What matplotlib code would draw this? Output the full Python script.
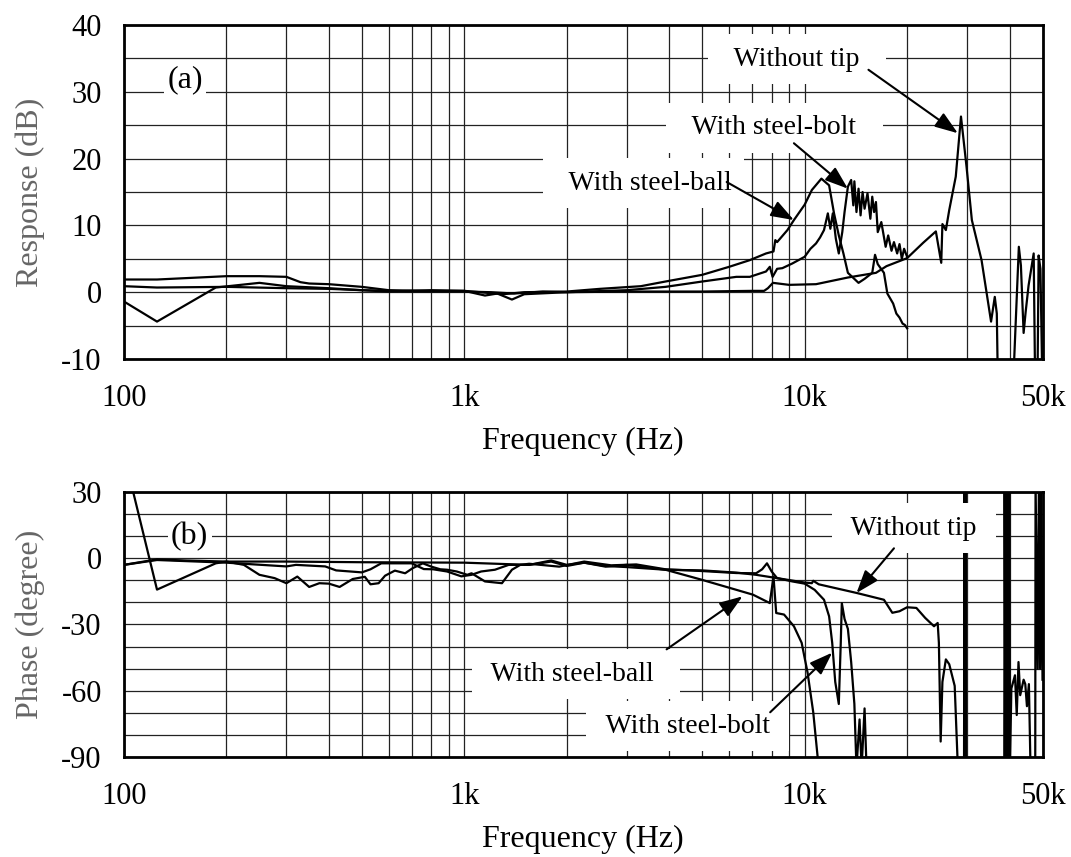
import numpy as np
import matplotlib.pyplot as plt
from matplotlib.ticker import FixedLocator, NullFormatter

plt.rcParams['font.family'] = ['Liberation Serif', 'DejaVu Serif']
plt.rcParams['axes.unicode_minus'] = False

# ---- (a) response, dB ----
wt_f = [100, 125, 200, 300, 400, 500, 700, 1000, 1200, 1400, 1700, 2000, 3000, 5000,
        7000, 7600, 7800, 8070, 9000, 10800, 13400, 16200, 17400, 20000, 22300, 24300,
        25200, 25400, 26000, 26600, 27800, 28800, 29900, 31000, 33100, 35300, 36200,
        36700, 37000, 40900, 42600, 43200, 44000, 44600, 45500, 47100, 47600, 48300,
        48700, 49300, 50000]
wt_db = [0.9, 0.7, 0.8, 0.6, 0.5, 0.3, 0.1, 0.1, 0.0, -0.2, 0.1, 0.0, 0.1, 0.1,
         0.2, 0.2, 0.6, 1.4, 1.1, 1.2, 2.2, 2.9, 3.9, 5.1, 7.4, 9.1,
         4.4, 10.2, 9.3, 12.3, 17.3, 26.3, 18.8, 10.8, 4.8, -4.4, -0.7,
         -3.2, -15, -15, 6.8, 4.0, -6.1, -3.0, 1.0, 5.8, -15, -15,
         5.5, 3.5, -15]

sb_f = [100, 125, 200, 250, 300, 330, 350, 400, 500, 600, 800, 1000, 1300, 1500, 2000,
        2500, 3300, 3900, 5000, 6000, 6900, 7700, 8100, 8200, 8300, 8900, 9300, 10000,
        10500, 11200, 11800, 12200, 12600, 13000, 13400, 14400, 15000, 15800, 16100,
        16400, 17100, 17500, 18200, 18600, 19000, 19400, 19700, 20000]
sb_db = [1.9, 1.9, 2.4, 2.4, 2.3, 1.5, 1.3, 1.2, 0.8, 0.3, 0.2, 0.2, -0.3, 0.0, 0.1,
         0.5, 0.9, 1.6, 2.6, 3.8, 4.8, 5.8, 6.1, 7.8, 7.5, 9.3, 10.8, 13.1,
         15.3, 17.0, 16.0, 11.8, 8.5, 5.8, 2.9, 1.4, 2.0, 2.9, 5.6,
         4.2, 2.9, -0.2, -1.7, -3.2, -3.8, -4.7, -4.9, -5.4]

bt_f = [100, 125, 186, 250, 300, 400, 500, 600, 800, 1000, 1150, 1250, 1380, 1500,
        2000, 3000, 3900, 5000, 6300, 6900, 7700, 7900, 8050, 8300, 8600, 9200, 10000,
        10400, 10800, 11100, 11400, 11700, 11900, 12100, 12350, 12600, 12900, 13100,
        13400, 13700, 13900, 14000, 14200, 14400, 14600, 14800, 15000, 15300, 15600,
        15800, 16000, 16200, 16400, 16800, 17300, 17600, 18000, 18300, 18700, 19000,
        19300, 19600, 20000]
bt_db = [-1.4, -4.4, 0.7, 1.4, 0.9, 0.6, 0.3, 0.1, 0.3, 0.2, -0.5, -0.2, -1.1, -0.3,
         0.0, 0.3, 0.8, 1.6, 2.3, 2.3, 3.1, 3.8, 2.3, 3.5, 3.6, 4.3, 5.3,
         6.5, 7.3, 8.2, 9.3, 11.8, 9.5, 11.8, 8.0, 5.8, 9.0, 12.0,
         15.8, 16.8, 13.0, 16.6, 12.0, 15.5, 11.5, 15.0, 12.5, 14.8, 11.0,
         14.3, 12.0, 13.5, 9.0, 10.5, 6.8, 8.5, 6.2, 7.5, 5.8, 7.2,
         5.0, 6.5, 5.3]

# ---- (b) phase, degree ----
wt_pf = [100, 125, 150, 200, 300, 500, 1000, 1550, 1800, 2000, 2250, 2600, 3000, 3900,
         5000, 6300, 7200, 8300, 10000, 10500, 10600, 11000, 14200, 17100, 18100,
         19000, 20000, 21300, 22600, 24000, 24600, 24800, 25100, 25400, 26000, 26600,
         27600, 28200, 29400, 29500, 29600, 29700, 29800, 38600, 38700, 38900, 39100,
         39300, 39500, 39700, 39900, 40100, 40500, 41500, 42000, 42500, 43000, 44000,
         44500, 45000, 45600, 46100, 47600, 47700, 48400, 48800, 49200, 49600, 50000]
wt_ph = [-3.0, -0.5, -1.0, -1.5, -1.5, -1.8, -2.0, -3.0, -1.5, -3.5, -2.0, -3.8, -3.0, -5.2,
         -5.5, -6.5, -7.5, -9.0, -11.0, -11.3, -10.2, -11.8, -15.7, -18.8, -24.7,
         -24.0, -22.2, -22.5, -27.0, -30.8, -29.3, -38.3, -83, -56, -45.8, -48,
         -57.8, -95, -95, 35, -95, 35, -95, -95, 35, -95, 35,
         -95, 35, -95, 35, -95, -59, -53, -71, -47, -62, -55,
         -57, -67, -57, -95, -95, 35, -50, 35, -50, 35, -55]

sb_pf = [100, 125, 200, 300, 320, 390, 420, 500, 530, 570, 700, 760, 810, 890, 980,
         1050, 1120, 1230, 1350, 1550, 1800, 2000, 2250, 2600, 3000, 3900, 5000, 6300,
         7050, 7900, 8100, 8250, 8700, 9300, 9800, 10200, 10600, 11000]
sb_ph = [-3.0, -0.8, -2.0, -3.7, -3.0, -3.7, -5.5, -6.4, -5.0, -2.3, -2.3, -4.9, -5.0, -6.0, -8.2,
         -7.5, -6.0, -5.2, -3.0, -3.0, -1.0, -3.0, -2.0, -3.5, -4.0, -5.2, -9.8, -14.3,
         -16.5, -20.3, -8.3, -24.8, -25.5, -30.8, -38.3, -51.8, -69.8, -95]

bt_pf = [100, 125, 186, 200, 225, 250, 277, 300, 323, 350, 375, 400, 430, 470, 510, 530,
         560, 585, 625, 670, 705, 755, 800, 850, 890, 950, 1020, 1050, 1150, 1290, 1380,
         1460, 1550, 1900, 2250, 2700, 3200, 3900, 5000, 6300, 7200, 7500, 7750, 8000,
         8300, 9200, 10000, 10700, 11400, 11800, 12050, 12300, 12600, 12770, 12860, 13100,
         13400, 13700, 14000, 14200, 14500, 14700, 15000, 15200]
bt_ph = [47, -14.2, -2.3, -1.5, -3.0, -7.5, -9.0, -11.3, -8.3, -13.0, -11.3, -11.5, -13.0, -9.4, -8.4, -11.8,
         -11.3, -7.9, -5.6, -6.8, -4.5, -2.3, -3.8, -5.0, -5.2, -6.0, -7.5, -6.8, -10.5, -11.3, -5.2,
         -3.0, -2.5, -3.8, -1.5, -3.2, -2.8, -5.0, -5.8, -6.7, -6.8, -5.0, -2.3, -6.0,
         -9.0, -10.5, -11.5, -14.3, -18.8, -26.3, -38.3, -56, -66, -38, -20.3, -27.5,
         -32, -47, -66, -95, -73, -95, -68, -95]

freq_labels = ['100', '1k', '10k', '50k']
freq_major = [100, 1000, 10000, 50000]
freq_minor = [200, 300, 400, 500, 600, 700, 800, 900,
              2000, 3000, 4000, 5000, 6000, 7000, 8000, 9000,
              20000, 30000, 40000]

fig = plt.figure(figsize=(10.71, 8.57), dpi=100)
ax1 = fig.add_axes([0.1158, 0.5811, 0.8576, 0.3897])
ax2 = fig.add_axes([0.1158, 0.1167, 0.8576, 0.3092])

lw = 1.6
ax1.plot(wt_f, wt_db, color='k', lw=lw)
ax1.plot(sb_f, sb_db, color='k', lw=lw)
ax1.plot(bt_f, bt_db, color='k', lw=lw)
ax2.plot(wt_pf, wt_ph, color='k', lw=lw)
ax2.plot(sb_pf, sb_ph, color='k', lw=lw)
ax2.plot(bt_pf, bt_ph, color='k', lw=lw)

for ax in (ax1, ax2):
    ax.set_xscale('log')
    ax.set_xlim(100, 50000)
    ax.xaxis.set_major_locator(FixedLocator(freq_major))
    ax.xaxis.set_minor_locator(FixedLocator(freq_minor))
    ax.xaxis.set_minor_formatter(NullFormatter())
    ax.set_xticklabels(freq_labels)
    ax.set_axisbelow(True)
    ax.grid(True, which='both', color='#222222', lw=0.9)
    ax.tick_params(which='both', length=0, labelsize=22)
    ax.tick_params(axis='x', pad=18)
    ax.tick_params(axis='y', pad=16)
    for s in ax.spines.values():
        s.set_linewidth(2.0)
    ax.set_xlabel('Frequency (Hz)', fontsize=23, labelpad=10)

ax1.set_ylim(-10, 40)
ax1.set_yticks([-10, 0, 10, 20, 30, 40])
ax1.yaxis.set_minor_locator(FixedLocator([-5, 5, 15, 25, 35]))
ax1.set_ylabel('Response (dB)', fontsize=23, color='#666666')
ax1.yaxis.set_label_coords(-0.086, 0.5)

ax2.set_ylim(-90, 30)
ax2.set_yticks([-90, -60, -30, 0, 30])
ax2.yaxis.set_minor_locator(FixedLocator([-80, -70, -50, -40, -20, -10, 10, 20]))
ax2.set_ylabel('Phase (degree)', fontsize=23, color='#666666')
ax2.yaxis.set_label_coords(-0.086, 0.5)

box = dict(facecolor='white', edgecolor='none', boxstyle='square,pad=0.45')
arrow = dict(arrowstyle='-|>,head_length=0.7,head_width=0.25', color='k', lw=1.5,
             mutation_scale=20, shrinkA=0, shrinkB=0)

ax1.text(151, 31.8, '(a)', fontsize=23, ha='center', va='center',
         bbox=dict(facecolor='white', edgecolor='none', boxstyle='square,pad=0.1'))
ax1.text(9480, 34.9, '  Without tip  ', fontsize=20, ha='center', va='center', bbox=box)
ax1.annotate('', xy=(28200, 23.8), xytext=(15400, 33.3), arrowprops=arrow)
ax1.text(8140, 24.6, '  With steel-bolt  ', fontsize=20, ha='center', va='center', bbox=box)
ax1.annotate('', xy=(13400, 15.5), xytext=(9300, 22.3), arrowprops=arrow)
ax1.text(3360, 16.3, '  With steel-ball', fontsize=20, ha='center', va='center', bbox=box)
ax1.annotate('', xy=(9300, 10.8), xytext=(5900, 16.5), arrowprops=arrow)

ax2.text(156, 9.75, '(b)', fontsize=23, ha='center', va='center',
         bbox=dict(facecolor='white', edgecolor='none', boxstyle='square,pad=0.1'))
ax2.text(20960, 13.5, ' Without tip ', fontsize=20, ha='center', va='center', bbox=box)
ax2.annotate('', xy=(14200, -15.75), xytext=(18300, 4.5), arrowprops=arrow)
ax2.text(2130, -52.5, ' With steel-ball  ', fontsize=20, ha='center', va='center', bbox=box)
ax2.annotate('', xy=(6570, -17.25), xytext=(3930, -41.25), arrowprops=arrow)
ax2.text(4540, -76, ' With steel-bolt ', fontsize=20, ha='center', va='center', bbox=box)
ax2.annotate('', xy=(12050, -42.75), xytext=(7920, -69.75), arrowprops=arrow)

fig.savefig('out.png', dpi=100)
